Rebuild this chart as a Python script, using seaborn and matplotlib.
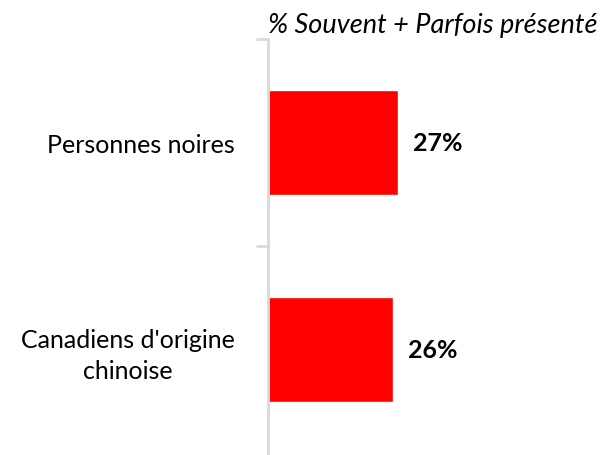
import matplotlib
matplotlib.use("Agg")
import matplotlib.pyplot as plt
import seaborn as sns
import pandas as pd

categories = ["Personnes noires", "Canadiens d'origine\nchinoise"]
values = [27, 26]
value_labels = ["27%", "26%"]
title = "% Souvent + Parfois présenté"

sns.set_theme(style="white")
plt.rcParams["font.family"] = ["Lato", "DejaVu Sans"]

df = pd.DataFrame({"cat": categories, "val": values})

fig = plt.figure(figsize=(6.02, 4.56), dpi=100)
# axes from y=40px down past the bottom edge; one category = 207px
ax = fig.add_axes([268 / 602, -6 / 456, 1 - 268 / 602, (462 - 40) / 456])

sns.barplot(data=df, x="val", y="cat", orient="h", color="#ff0000",
            saturation=1, width=0.51, ax=ax)

ax.set_xlim(0, 69.5)
ax.set_ylim(-0.5 + 422 / 207, -0.5)
ax.set_xlabel("")
ax.set_ylabel("")
ax.set_xticks([])

# category labels
ax.set_yticks(range(len(categories)))
ax.set_yticklabels(categories, fontsize=18, color="black",
                   multialignment="center", linespacing=1.4)
ax.tick_params(axis="y", which="major", length=0, pad=24)
# tick marks at category boundaries
ax.set_yticks([-0.5, 0.5], minor=True)
ax.tick_params(axis="y", which="minor", length=9, width=2, color="#d9d9d9", left=True)

for s in ["top", "right", "bottom"]:
    ax.spines[s].set_visible(False)
ax.spines["left"].set_color("#d9d9d9")
ax.spines["left"].set_linewidth(2)

for i, (v, lab) in enumerate(zip(values, value_labels)):
    ax.annotate(lab, xy=(v, i), xytext=(11, 0), textcoords="offset points",
                ha="left", va="center", fontsize=18, fontweight="bold", color="black")

fig.text(597 / 602, 1 - 26 / 456, title, ha="right", va="center",
         fontsize=19.5, fontstyle="italic", color="black")

fig.savefig("out.png", dpi=100)
